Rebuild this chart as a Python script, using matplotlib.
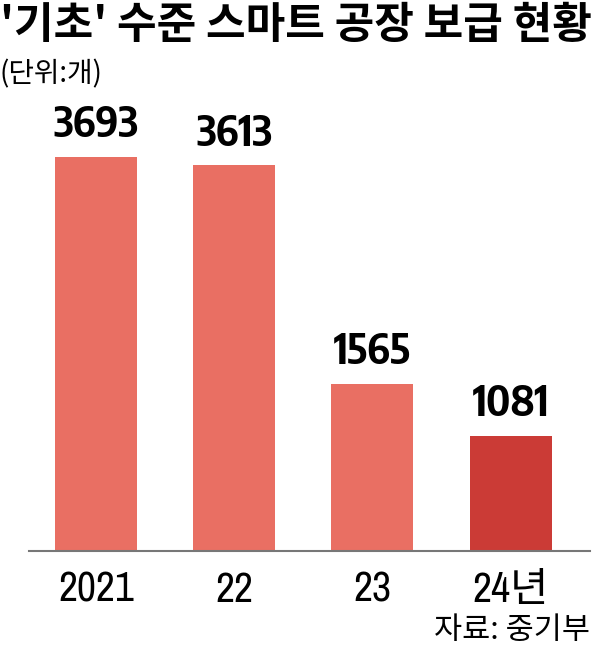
import matplotlib.pyplot as plt

# data
years = ['2021', '22', '23', '24년']
counts = [3693, 3613, 1565, 1081]
colors = ['#E96F63', '#E96F63', '#E96F63', '#CB3B36']

title = "'기초' 수준 스마트 공장 보급 현황"
unit = '(단위:개)'
source = '자료: 중기부'

kr = ['Noto Sans CJK KR', 'DejaVu Sans']
val_font = ['Encode Sans Condensed', 'Noto Sans CJK KR']
tick_font = ['Archivo Narrow', 'Noto Sans CJK KR']

fig = plt.figure(figsize=(6.03, 6.5), dpi=100)
ax = fig.add_axes([0.048, 0.152, 0.930, 0.679])

x = range(len(years))
ax.bar(x, counts, width=0.593, color=colors)
for i, v in zip(x, counts):
    ax.text(i, v + 100, str(v), ha='center', va='bottom', fontsize=30,
            fontweight='bold', family=val_font)

ax.set_xlim(-0.484, 3.571)
ax.set_ylim(0, 4133)
ax.set_xticks(list(x))
ax.set_xticklabels(years, family=tick_font, fontsize=30)
ax.tick_params(axis='x', length=0, pad=14)
ax.set_yticks([])
for s in ['top', 'right', 'left']:
    ax.spines[s].set_visible(False)
ax.spines['bottom'].set_color('#777777')
ax.spines['bottom'].set_linewidth(1.5)

fig.text(0.0, 0.995, title, ha='left', va='top', fontsize=31,
         fontweight='bold', family=kr)
fig.text(0.0, 0.908, unit, ha='left', va='top', fontsize=20,
         fontweight='light', family=kr)
fig.text(0.978, 0.006, source, ha='right', va='bottom', fontsize=22,
         fontweight='light', family=kr)

fig.savefig('out.png', dpi=100)
